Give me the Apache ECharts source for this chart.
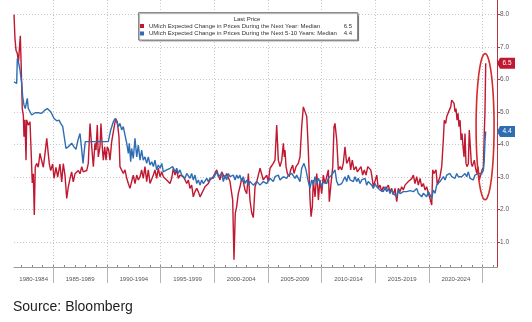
<!DOCTYPE html>
<html><head><meta charset="utf-8">
<script src="https://cdn.jsdelivr.net/npm/echarts@6/dist/echarts.min.js"></script>
<style>html,body{margin:0;padding:0;background:#fff}#c{width:532px;height:322px}</style>
</head><body><div id="c"></div>
<script>
// ---- data ----
const redName = 'UMich Expected Change in Prices During the Next Year: Median';
const blueName = 'UMich Expected Change in Prices During the Next 5-10 Years: Median';

const redYears = [
1981.34,1981.43,1981.53,1981.65,1981.76,1981.83,1981.93,1982.02,1982.11,1982.21,
1982.27,1982.36,1982.46,1982.52,1982.67,1982.83,1982.92,1983.04,1983.14,1983.23,
1983.32,1983.45,1983.60,1983.76,1983.92,1984.07,1984.23,1984.39,1984.48,1984.63,
1984.76,1984.94,1985.07,1985.25,1985.41,1985.62,1985.78,1985.93,1986.09,1986.25,
1986.40,1986.56,1986.71,1986.86,1987.02,1987.18,1987.33,1987.49,1987.65,1987.79,
1988.11,1988.26,1988.42,1988.58,1988.73,1988.88,1988.98,1989.10,1989.19,1989.35,
1989.44,1989.56,1989.66,1989.79,1989.91,1990.03,1990.16,1990.28,1990.44,1990.59,
1990.81,1990.96,1991.12,1991.21,1991.37,1991.52,1991.68,1991.84,1991.99,1992.14,
1992.30,1992.45,1992.61,1992.77,1992.92,1993.08,1993.23,1993.38,1993.54,1993.70,
1993.85,1994.01,1994.17,1994.32,1994.47,1994.63,1994.78,1994.94,1995.10,1995.25,
1995.56,1995.87,1996.03,1996.18,1996.34,1996.50,1996.64,1996.80,1997.11,1997.27,
1997.43,1997.58,1997.73,1997.89,1998.04,1998.20,1998.36,1998.51,1998.67,1998.82,
1998.97,1999.13,1999.29,1999.44,1999.60,1999.76,1999.90,2000.06,2000.22,2000.37,
2000.53,2000.69,2000.84,2000.99,2001.15,2001.30,2001.46,2001.62,2001.71,2001.83,
2001.95,2002.08,2002.23,2002.39,2002.55,2002.70,2002.86,2003.02,2003.17,2003.32,
2003.48,2003.63,2003.79,2003.95,2004.10,2004.26,2004.41,2004.56,2004.72,2004.88,
2005.03,2005.19,2005.35,2005.49,2005.65,2005.81,2005.96,2006.12,2006.28,2006.43,
2006.52,2006.58,2006.68,2006.80,2006.98,2007.11,2007.30,2007.42,2007.61,2007.82,
2007.98,2008.14,2008.29,2008.45,2008.61,2008.70,2008.79,2008.91,2009.01,2009.13,
2009.22,2009.38,2009.54,2009.63,2009.69,2009.84,2010.00,2010.15,2010.31,2010.47,
2010.62,2010.71,2010.84,2011.03,2011.15,2011.24,2011.40,2011.55,2011.71,2011.87,
2012.01,2012.17,2012.33,2012.48,2012.57,2012.70,2012.85,2013.01,2013.20,2013.32,
2013.50,2013.66,2013.82,2013.97,2014.13,2014.29,2014.44,2014.57,2014.66,2014.81,
2014.97,2015.13,2015.27,2015.43,2015.59,2015.74,2015.90,2016.06,2016.21,2016.36,
2016.52,2016.67,2016.83,2016.99,2017.14,2017.30,2017.45,2017.60,2017.76,2017.92,
2018.07,2018.23,2018.39,2018.54,2018.69,2018.85,2019.00,2019.16,2019.32,2019.47,
2019.63,2019.78,2019.93,2020.09,2020.25,2020.34,2020.46,2020.56,2020.65,2020.77,
2020.86,2021.02,2021.18,2021.33,2021.42,2021.55,2021.65,2021.80,2021.89,2022.02,
2022.11,2022.21,2022.33,2022.42,2022.51,2022.61,2022.70,2022.79,2022.89,2022.98,
2023.07,2023.17,2023.26,2023.35,2023.44,2023.54,2023.66,2023.75,2023.85,2023.94,
2024.03,2024.12,2024.22,2024.31,2024.44,2024.56,2024.68,2024.81,2024.94,2025.06,
2025.14,2025.21,2025.28];
const redValues = [
8.0,7.27,6.9,6.8,6.55,6.9,7.35,6.3,5.1,4.9,
4.24,4.76,3.52,4.76,4.6,4.7,3.93,2.82,3.1,1.83,
3.3,3.42,3.3,3.73,3.5,3.3,3.73,4.19,4.15,3.4,
3.2,3.4,2.96,3.3,3.0,3.4,2.85,3.41,3.05,2.34,
2.7,2.96,3.16,2.85,3.1,3.06,3.2,3.1,3.32,3.16,
3.2,3.42,4.65,3.93,3.32,4.04,3.83,4.6,3.62,3.93,
4.65,3.93,3.52,3.93,3.52,3.93,3.83,3.52,4.09,4.39,
4.8,4.7,4.24,3.32,3.27,3.11,3.22,2.96,2.8,2.65,
2.86,3.06,2.8,3.06,2.91,3.01,3.22,2.96,3.32,2.86,
3.22,2.8,2.86,3.06,3.22,2.96,3.27,3.01,3.16,3.01,
2.91,2.8,2.96,3.27,3.06,3.22,2.96,3.06,3.01,2.91,
2.8,2.91,2.65,2.75,2.39,2.55,2.65,2.55,2.39,2.49,
2.55,2.7,2.65,2.8,2.91,2.86,3.01,3.06,3.22,3.06,
2.91,3.16,3.22,2.96,3.11,3.16,2.86,2.8,2.29,0.45,
1.88,2.09,2.49,2.7,2.96,2.86,2.6,2.49,3.11,2.29,
1.9,1.75,2.7,2.86,2.8,3.27,3.32,2.91,2.96,3.06,
2.86,3.27,3.22,3.42,3.52,4.6,3.52,3.32,3.52,4.04,
3.62,3.83,3.32,3.11,3.01,3.22,3.37,3.11,3.32,3.42,
3.62,4.55,5.16,5.22,4.86,4.24,3.52,2.34,1.78,2.09,
2.91,2.39,3.11,2.7,2.29,2.91,2.49,3.06,2.8,2.86,
3.22,2.24,2.7,3.32,4.55,4.65,4.14,3.22,3.32,3.22,
3.42,3.93,3.42,3.52,3.62,3.22,3.52,3.22,3.32,3.16,
3.11,3.32,3.06,3.22,3.06,3.32,3.32,3.22,3.06,2.7,
2.75,3.06,2.65,2.75,2.55,2.7,2.6,2.65,2.75,2.55,
2.65,2.45,2.65,2.24,2.65,2.55,2.7,2.6,2.75,2.7,
2.86,2.9,2.95,3.06,2.8,3.01,2.75,2.96,2.7,2.8,
2.6,2.7,2.5,2.34,2.14,3.22,3.11,3.06,3.22,2.75,
2.86,3.01,3.32,4.14,4.75,4.65,4.86,4.91,5.06,5.16,
5.37,5.42,5.27,5.01,5.11,4.75,4.96,4.55,4.75,4.14,
4.34,3.93,3.62,4.34,3.42,3.32,3.42,4.45,4.5,3.42,
3.32,3.27,3.52,3.32,3.11,3.32,2.91,3.06,3.22,3.3,
4.3,5.0,6.5];

const blueYears = [
1981.34,1981.59,1981.65,1981.78,1981.90,1982.06,1982.15,1982.27,1982.39,1982.58,
1982.67,1982.83,1982.99,1983.14,1983.30,1983.45,1983.60,1983.76,1983.92,1984.07,
1984.23,1984.44,1984.60,1984.76,1984.91,1985.07,1985.32,1985.53,1985.69,1985.88,
1986.02,1986.18,1986.40,1986.56,1986.71,1986.93,1987.11,1987.30,1987.49,1987.65,
1987.77,1987.86,1987.98,1990.12,1990.35,1990.59,1990.75,1990.91,1991.06,1991.21,
1991.37,1991.52,1991.68,1991.84,1991.99,1992.08,1992.21,1992.30,1992.45,1992.61,
1992.77,1992.92,1993.08,1993.23,1993.38,1993.54,1993.70,1993.85,1994.01,1994.17,
1994.32,1994.47,1994.63,1994.78,1994.94,1995.10,1995.25,1995.56,1995.87,1996.12,
1996.34,1996.50,1996.64,1996.80,1996.96,1997.27,1997.43,1997.58,1997.73,1997.89,
1998.04,1998.20,1998.36,1998.51,1998.67,1998.82,1998.97,1999.29,1999.44,1999.60,
1999.76,1999.90,2000.06,2000.22,2000.37,2000.53,2000.69,2000.84,2000.99,2001.15,
2001.30,2001.46,2001.62,2001.77,2001.93,2002.08,2002.23,2002.39,2002.55,2002.70,
2002.86,2003.02,2003.17,2003.32,2003.63,2003.95,2004.26,2004.56,2004.88,2005.19,
2005.49,2005.65,2005.81,2005.96,2006.12,2006.43,2006.74,2006.89,2007.05,2007.21,
2007.36,2007.52,2007.67,2007.82,2007.98,2008.14,2008.35,2008.54,2008.75,2008.91,
2009.07,2009.22,2009.38,2009.54,2009.69,2009.84,2010.00,2010.15,2010.31,2010.47,
2010.62,2010.78,2010.93,2011.08,2011.24,2011.40,2011.55,2011.71,2011.87,2012.01,
2012.17,2012.33,2012.48,2012.64,2012.80,2012.95,2013.10,2013.26,2013.41,2013.57,
2013.73,2013.88,2014.04,2014.19,2014.34,2014.50,2014.66,2014.81,2014.97,2015.13,
2015.27,2015.43,2015.59,2015.74,2015.90,2016.06,2016.21,2016.36,2016.52,2016.67,
2016.83,2016.99,2017.14,2017.30,2017.45,2017.60,2017.76,2017.92,2018.07,2018.23,
2018.54,2018.69,2018.85,2019.00,2019.16,2019.32,2019.47,2019.63,2019.78,2019.93,
2020.09,2020.25,2020.40,2020.56,2020.71,2020.86,2021.02,2021.18,2021.33,2021.49,
2021.65,2021.80,2021.95,2022.11,2022.26,2022.42,2022.58,2022.73,2022.89,2023.04,
2023.19,2023.35,2023.51,2023.66,2023.82,2023.98,2024.12,2024.28,2024.44,2024.59,
2024.75,2024.91,2025.06,2025.14,2025.21,2025.28];
const blueValues = [
5.93,5.88,6.65,6.5,6.29,5.88,5.47,5.22,5.11,5.42,
5.11,5.06,4.91,4.96,4.98,5.01,4.98,5.01,4.96,5.01,
5.06,5.11,5.14,5.01,4.91,4.8,4.73,4.75,4.65,4.55,
4.24,3.88,3.93,3.98,4.04,3.93,3.85,4.14,4.34,3.83,
3.42,3.73,4.09,4.09,4.45,4.7,4.8,4.7,4.55,4.65,
4.45,4.55,4.29,4.04,3.73,4.04,3.47,3.88,3.57,4.19,
3.62,3.98,3.52,3.83,3.52,3.62,3.42,3.62,3.37,3.47,
3.32,3.52,3.22,3.37,3.27,3.42,3.16,3.22,3.27,3.32,
3.16,3.27,3.11,3.22,3.06,2.96,3.11,3.06,2.96,3.11,
2.91,3.06,2.8,2.91,2.75,2.91,2.8,2.96,2.86,2.96,
2.91,2.96,3.06,3.16,3.01,2.96,3.11,2.86,3.06,2.91,
3.11,3.01,2.96,3.06,2.91,3.06,2.96,3.06,2.86,3.01,
2.8,2.91,2.75,2.86,2.75,2.86,2.75,2.86,2.8,2.96,
2.86,3.01,2.96,3.06,2.91,3.01,2.96,3.06,3.01,3.11,
3.06,2.96,3.06,3.01,2.86,3.27,3.42,3.22,2.86,2.65,
2.91,2.75,3.01,2.8,2.96,2.91,2.7,2.86,2.91,2.8,
2.96,2.91,3.06,3.11,3.22,2.86,2.75,2.7,2.8,2.75,
3.01,2.86,3.06,2.91,2.96,2.86,3.01,2.86,2.96,2.8,
2.91,2.86,2.96,2.75,2.86,2.8,2.75,2.65,2.8,2.7,
2.75,2.6,2.65,2.55,2.7,2.55,2.65,2.49,2.6,2.49,
2.55,2.39,2.6,2.49,2.55,2.55,2.6,2.55,2.6,2.58,
2.55,2.5,2.65,2.5,2.55,2.39,2.5,2.45,2.39,2.55,
2.45,2.34,2.6,2.5,2.75,2.7,2.86,2.8,3.01,2.91,
3.06,3.01,3.11,3.01,3.06,2.96,3.11,3.01,3.06,3.01,
3.06,3.11,3.01,3.16,2.96,3.01,2.91,3.06,3.01,3.11,
3.06,3.11,3.2,3.5,4.1,4.4];

const periodLabels = ['1980-1984','1985-1989','1990-1994','1995-1999','2000-2004','2005-2009','2010-2014','2015-2019','2020-2024'];
const periodCenters = [1983.17,1987.5,1992.5,1997.5,2002.5,2007.5,2012.5,2017.5,2022.5];
const separatorYears = [1985,1990,1995,2000,2005,2010,2015,2020,2025];
const minorYears = [1982,1983,1984,1985,1986,1987,1988,1989,1990,1991,1992,1993,1994,1995,1996,1997,1998,1999,2000,2001,2002,2003,2004,2005,2006,2007,2008,2009,2010,2011,2012,2013,2014,2015,2016,2017,2018,2019,2020,2021,2022,2023,2024,2025,2026];
const yTicks = [1,2,3,4,5,6,7,8];
const xMin = 1981.34, xMax = 2026.33, yMin = 0.23, yMax = 8.45;
const lastRed = redValues[redValues.length-1];
const lastBlue = blueValues[blueValues.length-1];

// ---- chart ----
const RED = '#c01830', BLUE = '#2f6db3';
const FONT = 'Liberation Sans, Arial, sans-serif';
const chart = echarts.init(document.getElementById('c'), null, {renderer:'canvas'});
const tagPath = 'path://M0,5L3,0L18,0L18,10L3,10Z';
const mkTag = (v, color) => ({
  symbol: tagPath, symbolSize: [18, 11], symbolKeepAspect: false, symbolOffset: [9, 0],
  silent: true,
  label: {show: true, color: '#fff', fontSize: 6.5, fontFamily: FONT, offset: [1, 0], formatter: () => v.toFixed(1)},
  itemStyle: {color},
  data: [{coord: [xMax, v], value: v}]
});

const option = {
  animation: false,
  backgroundColor: '#fff',
  grid: {left: 14, right: 35, top: 0, bottom: 55, containLabel: false},
  legend: {
    orient: 'vertical', left: 140, top: 23, itemWidth: 4, itemHeight: 4, itemGap: 1.5,
    icon: 'rect', selectedMode: false, padding: 0, z: 20,
    textStyle: {fontSize: 6, color: '#333', fontFamily: FONT, lineHeight: 6},
    data: [redName, blueName]
  },
  xAxis: [{
    type: 'value', min: xMin, max: xMax,
    axisLine: {show: true, lineStyle: {color: '#9a9a9a', width: 1}},
    axisTick: {show: true, customValues: separatorYears, length: 16, lineStyle: {color: '#b5b5b5'}},
    axisLabel: {customValues: periodCenters, fontSize: 6, color: '#555', margin: 9, fontFamily: FONT,
      formatter: v => { const i = periodCenters.findIndex(c => Math.abs(c - v) < 0.01); return i >= 0 ? periodLabels[i] : ''; }},
    splitLine: {show: true, lineStyle: {color: '#c6c6c6', type: [1, 2], width: 1}}
  }, {
    type: 'value', min: xMin, max: xMax, position: 'bottom',
    axisLine: {show: false},
    axisTick: {show: true, inside: true, customValues: minorYears, length: 2, lineStyle: {color: '#888'}},
    axisLabel: {show: false}, splitLine: {show: false}
  }],
  yAxis: {
    type: 'value', position: 'right', min: yMin, max: yMax,
    axisLine: {show: true, lineStyle: {color: '#b8323f', width: 1}},
    axisTick: {show: true, customValues: yTicks, length: 3, lineStyle: {color: '#b8323f'}},
    axisLabel: {customValues: yTicks, formatter: v => v.toFixed(1), fontSize: 6.5, color: '#555', margin: 3, fontFamily: FONT},
    splitLine: {show: true, lineStyle: {color: '#c6c6c6', type: [1, 2], width: 1}}
  },
  series: [{
    name: redName, type: 'line', showSymbol: false, clip: false, z: 3,
    color: RED, lineStyle: {width: 1.4, color: RED},
    data: redYears.map((y, i) => [y, redValues[i]]),
    markPoint: mkTag(lastRed, RED)
  }, {
    name: blueName, type: 'line', showSymbol: false, clip: false, z: 4,
    color: BLUE, lineStyle: {width: 1.4, color: BLUE},
    data: blueYears.map((y, i) => [y, blueValues[i]]),
    markPoint: mkTag(lastBlue, BLUE)
  }],
  graphic: {elements: [
    {type: 'rect', id: 'lgbox', z: 15, shape: {x: 138.5, y: 12.5, width: 219, height: 27.5},
      style: {fill: '#fff', stroke: '#8a8a8a', lineWidth: 1, shadowColor: 'rgba(0,0,0,0.35)', shadowOffsetX: 1, shadowOffsetY: 1, shadowBlur: 1}},
    {type: 'text', id: 'lgtitle', z: 16, x: 247, y: 19.5,
      style: {text: 'Last Price', fontSize: 6, fontFamily: FONT, fill: '#333', align: 'center', verticalAlign: 'middle'}},
    {type: 'text', id: 'lgv1', z: 16, x: 352, y: 26.3,
      style: {text: lastRed.toFixed(1), fontSize: 6, fontFamily: FONT, fill: '#333', align: 'right', verticalAlign: 'middle'}},
    {type: 'text', id: 'lgv2', z: 16, x: 352, y: 33.7,
      style: {text: lastBlue.toFixed(1), fontSize: 6, fontFamily: FONT, fill: '#333', align: 'right', verticalAlign: 'middle'}},
    {type: 'text', id: 'src', z: 16, left: 13, top: 300,
      style: {text: 'Source: Bloomberg', fontSize: 14, fontFamily: FONT, fill: '#1e1e1e'}}
  ]}
};
chart.setOption(option);

// hand-drawn style annotation ellipse around the latest readings (decoration, anchored in data space)
const ellCenter = chart.convertToPixel({xAxisIndex: 0, yAxisIndex: 0}, [2025.22, 4.55]);
const ellTop = chart.convertToPixel({xAxisIndex: 0, yAxisIndex: 0}, [2025.22, 6.8]);
const ry = ellCenter[1] - ellTop[1];
const rx = 9;
const ellPts = [];
for (let k = 0; k < 72; k++) {
  const t = k / 72 * Math.PI * 2;
  ellPts.push([ellCenter[0] + rx * Math.cos(t), ellCenter[1] + ry * Math.sin(t)]);
}
chart.setOption({graphic: {elements: [{
  type: 'polygon', id: 'ell', z: 12, silent: true,
  shape: {points: ellPts, smooth: 0},
  style: {fill: 'none', stroke: '#d42a2a', lineWidth: 1.6}
}]}});
</script>
</body></html>
